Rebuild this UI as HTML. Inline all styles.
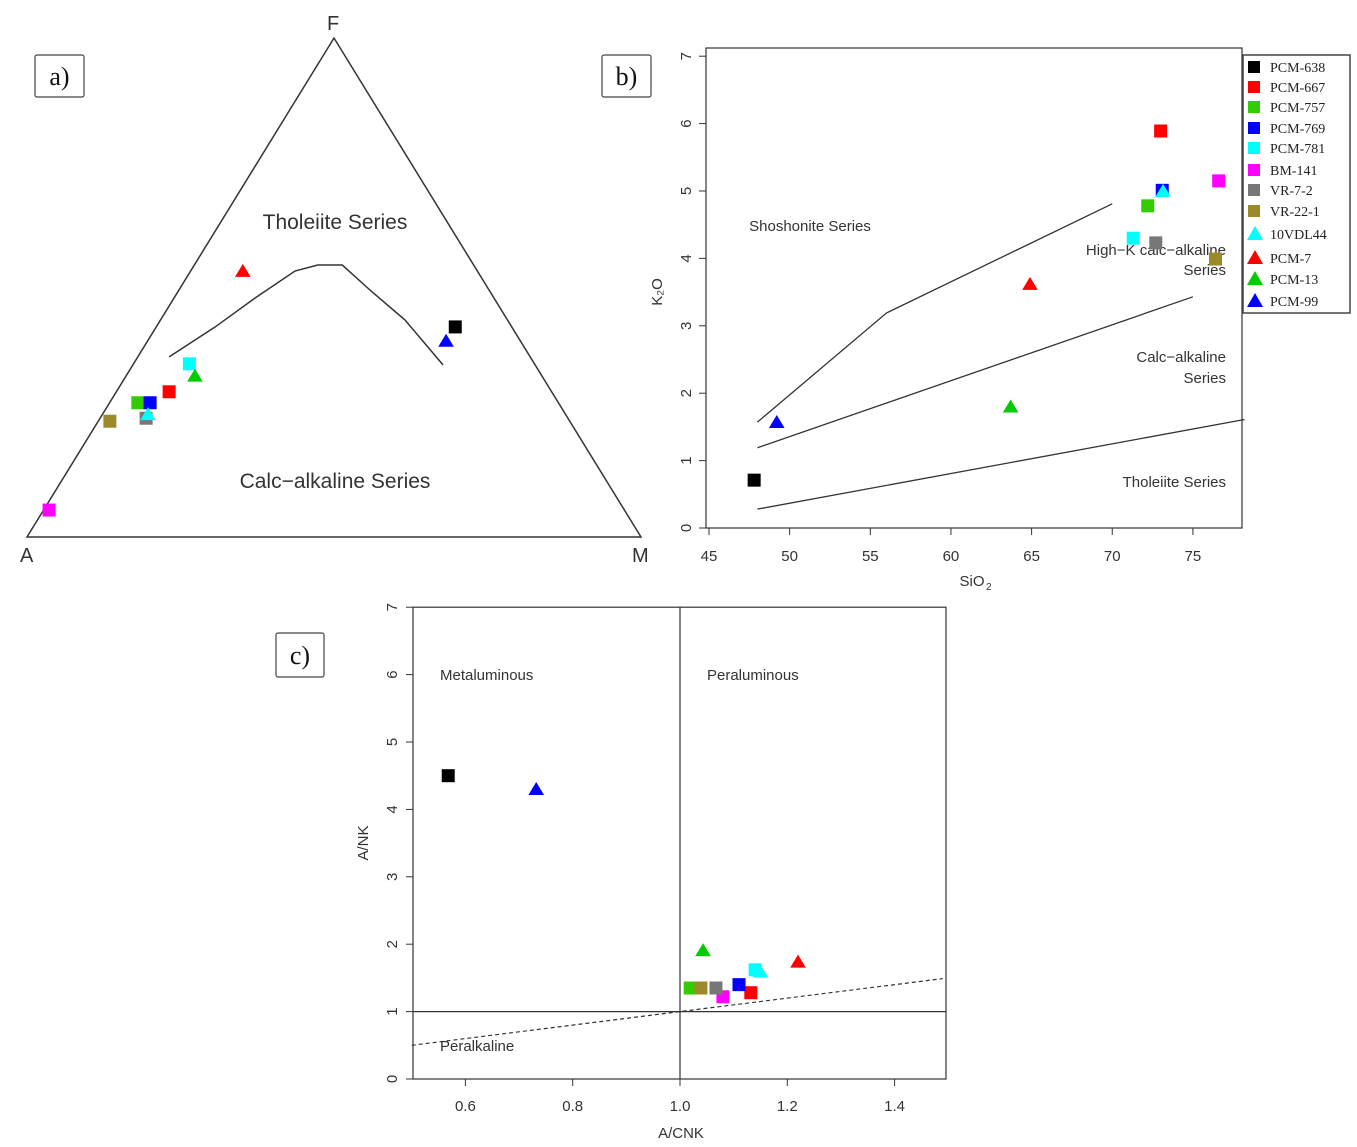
<!DOCTYPE html>
<html><head><meta charset="utf-8"><style>
body{margin:0;background:#fff;width:1357px;height:1147px;overflow:hidden}
svg{position:absolute;left:0;top:0}
text{font-family:"Liberation Sans",sans-serif;fill:#333}
</style></head><body>
<svg id="s" width="1357" height="1147" xmlns="http://www.w3.org/2000/svg"></svg>
<script>
// ---- data ----
const sampleNames=["PCM-638","PCM-667","PCM-757","PCM-769","PCM-781","BM-141","VR-7-2","VR-22-1","10VDL44","PCM-7","PCM-13","PCM-99"];
const sampleColors=["#000000","#ff0000","#33cc00","#0000ff","#00ffff","#ff00ff","#777777","#9b8a2a","#00ffff","#ff0000","#00cc00","#0000ff"];
const sampleShapes=["sq","sq","sq","sq","sq","sq","sq","sq","tri","tri","tri","tri"];
// panel a: ternary fractions F and M (A = 1-F-M)
const afmF=[0.421,0.291,0.269,0.269,0.347,0.054,0.238,0.232,0.246,0.533,0.323,0.393];
const afmM=[0.487,0.086,0.046,0.066,0.091,0.009,0.075,0.019,0.074,0.085,0.112,0.486];
const afmCurveF=[0.361,0.421,0.479,0.533,0.545,0.545,0.495,0.435,0.345];
const afmCurveM=[0.051,0.096,0.132,0.170,0.201,0.241,0.311,0.398,0.505];
// panel b: SiO2 vs K2O
const sio2=[47.8,73.0,72.2,73.1,71.3,76.6,72.7,76.4,73.15,64.9,63.7,49.2];
const k2o=[0.71,5.89,4.78,5.01,4.30,5.15,4.23,3.99,5.0,3.62,1.80,1.57];
const bLineUpperX=[48,56,70], bLineUpperY=[1.57,3.19,4.81];
const bLineMidX=[48,75], bLineMidY=[1.19,3.43];
const bLineLowX=[48,78.2], bLineLowY=[0.28,1.61];
const bXTicks=[45,50,55,60,65,70,75], bYTicks=[0,1,2,3,4,5,6,7];
// panel c: A/CNK vs A/NK
const acnk=[0.568,1.132,1.019,1.11,1.14,1.08,1.067,1.039,1.15,1.22,1.043,0.732];
const ank=[4.50,1.28,1.35,1.40,1.62,1.22,1.35,1.35,1.59,1.74,1.91,4.30];
const cXTicks=[0.6,0.8,1.0,1.2,1.4], cYTicks=[0,1,2,3,4,5,6,7];
const cDashX=[0.5,1.49], cDashY=[0.5,1.49];

const S=document.getElementById('s'),NS="http://www.w3.org/2000/svg";
function el(t,a,p){const e=document.createElementNS(NS,t);for(const k in a)e.setAttribute(k,a[k]);(p||S).appendChild(e);return e;}
function txt(x,y,s,a){const e=el('text',Object.assign({x:x,y:y},a||{}));e.textContent=s;return e;}
function marker(shape,c,x,y,sz){
  if(shape==='sq')return el('rect',{x:x-sz/2,y:y-sz/2,width:sz,height:sz,fill:c});
  return el('polygon',{points:`${x},${y-sz*0.55} ${x-sz*0.6},${y+sz*0.45} ${x+sz*0.6},${y+sz*0.45}`,fill:c});
}
// ---- panel a ----
const Ap=[27,537],Mp=[641,537],Fp=[334,38];
function tern(f,m){return [Ap[0]+(Mp[0]-Ap[0])*m+(Fp[0]-Ap[0])*f, Ap[1]+(Fp[1]-Ap[1])*f];}
let e=el('polygon',{points:`${Ap} ${Mp} ${Fp}`,fill:'none',stroke:'#333','stroke-width':1.5});

e=el('polyline',{points:afmCurveF.map((f,i)=>tern(f,afmCurveM[i]).join(',')).join(' '),fill:'none',stroke:'#333','stroke-width':1.5});

e=txt(20,562,'A',{'font-size':20});
e=txt(632,562,'M',{'font-size':20});
e=txt(327,30,'F',{'font-size':20});
e=txt(335,229,'Tholeiite Series',{'font-size':21,'text-anchor':'middle'});
e=txt(335,488,'Calc\u2212alkaline Series',{'font-size':21,'text-anchor':'middle'});
afmF.forEach((f,i)=>{const p=tern(f,afmM[i]);const m=marker(sampleShapes[i],sampleColors[i],p[0],p[1],13);
  });
function panelLabel(x,y,w,h,s,n){const r=el('rect',{x:x,y:y,width:w,height:h,fill:'#fff',stroke:'#444','stroke-width':1.2,rx:2});
  
  txt(x+w/2,y+h/2+9,s,{'font-size':26,'text-anchor':'middle',style:'font-family:"Liberation Serif",serif;fill:#111'});}
panelLabel(35,55,49,42,'a)','panel-a-label');
panelLabel(602,55,49,42,'b)','panel-b-label');
panelLabel(276,633,48,44,'c)','panel-c-label');
// ---- panel b ----
const bx=v=>709+(v-45)*16.13, by=v=>528-v*67.4;
e=el('rect',{x:706,y:48,width:536,height:480,fill:'none',stroke:'#333','stroke-width':1.2});

bXTicks.forEach(t=>{el('line',{x1:bx(t),x2:bx(t),y1:528,y2:535,stroke:'#333'});const l=txt(bx(t),561,t,{'font-size':15,'text-anchor':'middle'});
  });
bYTicks.forEach(t=>{el('line',{x1:699,x2:706,y1:by(t),y2:by(t),stroke:'#333'});const l=txt(0,0,t,{'font-size':15,'text-anchor':'middle',transform:`translate(691,${by(t)}) rotate(-90)`});
  });
e=txt(972,586,'SiO',{'font-size':15,'text-anchor':'middle'});
txt(986,590,'2',{'font-size':10});
e=txt(0,0,'K\u2082O',{'font-size':15,'text-anchor':'middle',transform:'translate(662,292) rotate(-90)'});
[[bLineUpperX,bLineUpperY,'b-upper-boundary'],[bLineMidX,bLineMidY,'b-middle-boundary'],[bLineLowX,bLineLowY,'b-lower-boundary']].forEach(([X,Y,n])=>{
  const l=el('polyline',{points:X.map((x,i)=>bx(x)+','+by(Y[i])).join(' '),fill:'none',stroke:'#333','stroke-width':1.3});
  });
e=txt(810,231,'Shoshonite Series',{'font-size':15,'text-anchor':'middle'});
e=txt(1226,255,'High\u2212K calc\u2212alkaline',{'font-size':15,'text-anchor':'end'});
txt(1226,275,'Series',{'font-size':15,'text-anchor':'end'});
e=txt(1226,362,'Calc\u2212alkaline',{'font-size':15,'text-anchor':'end'});
txt(1226,383,'Series',{'font-size':15,'text-anchor':'end'});
e=txt(1226,487,'Tholeiite Series',{'font-size':15,'text-anchor':'end'});
sio2.forEach((v,i)=>{const m=marker(sampleShapes[i],sampleColors[i],bx(v),by(k2o[i]),13);
  });
// legend
e=el('rect',{x:1243,y:55,width:107,height:258,fill:'#fff',stroke:'#444','stroke-width':1.5});

const legY=[67,87,107,128,148,170,190,211,234,258,279,301];
sampleNames.forEach((n,i)=>{const g=el('g',{});
  if(sampleShapes[i]==='sq')el('rect',{x:1248,y:legY[i]-6,width:12,height:12,fill:sampleColors[i]},g);
  else el('polygon',{points:`${1255},${legY[i]-8} ${1247},${legY[i]+6} ${1263},${legY[i]+6}`,fill:sampleColors[i]},g);
  const t=el('text',{x:1270,y:legY[i]+5,'font-size':14,style:'font-family:"Liberation Serif",serif;fill:#222'},g);t.textContent=n;});
// ---- panel c ----
const cx=v=>680+(v-1)*536.5, cy=v=>1079-v*67.4;
e=el('rect',{x:413,y:cy(7),width:533,height:cy(0)-cy(7),fill:'none',stroke:'#333','stroke-width':1.2});

e=el('line',{x1:cx(1),x2:cx(1),y1:cy(7),y2:cy(0),stroke:'#333','stroke-width':1.2});
e=el('line',{x1:413,x2:946,y1:cy(1),y2:cy(1),stroke:'#333','stroke-width':1.2});
e=el('line',{x1:cx(cDashX[0]),x2:cx(cDashX[1]),y1:cy(cDashY[0]),y2:cy(cDashY[1]),stroke:'#333','stroke-width':1.2,'stroke-dasharray':'4,3'});

cXTicks.forEach(t=>{el('line',{x1:cx(t),x2:cx(t),y1:1079,y2:1086,stroke:'#333'});const l=txt(cx(t),1111,t.toFixed(1),{'font-size':15,'text-anchor':'middle'});
  });
cYTicks.forEach(t=>{el('line',{x1:406,x2:413,y1:cy(t),y2:cy(t),stroke:'#333'});const l=txt(0,0,t,{'font-size':15,'text-anchor':'middle',transform:`translate(397,${cy(t)}) rotate(-90)`});
  });
e=txt(681,1138,'A/CNK',{'font-size':15,'text-anchor':'middle'});
e=txt(0,0,'A/NK',{'font-size':15,'text-anchor':'middle',transform:'translate(368,843) rotate(-90)'});
e=txt(440,680,'Metaluminous',{'font-size':15});
e=txt(707,680,'Peraluminous',{'font-size':15});
e=txt(440,1051,'Peralkaline',{'font-size':15});
acnk.forEach((v,i)=>{const m=marker(sampleShapes[i],sampleColors[i],cx(v),cy(ank[i]),13);
  });
</script>
</body></html>
